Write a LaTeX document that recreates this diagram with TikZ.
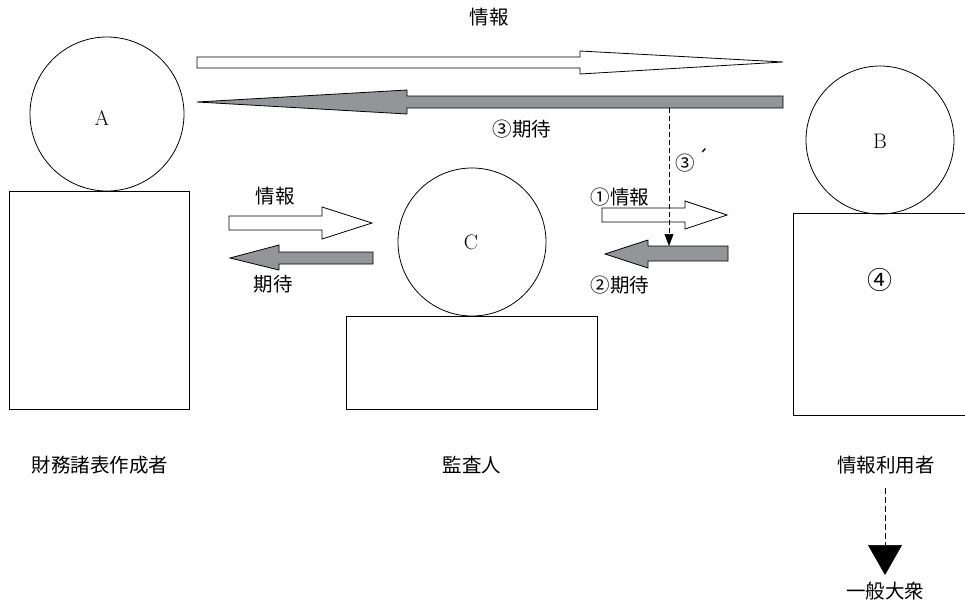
\documentclass[tikz,border=0pt]{standalone}
\usepackage{fontspec}
\newfontfamily\jp{Noto Sans CJK JP}
\usetikzlibrary{arrows.meta}
\definecolor{agray}{RGB}{148,149,153}
\tikzset{
  outl/.style={draw=black,line width=0.8pt},
  whitearrow/.style={outl,fill=white,line join=miter},
  grayarrow/.style={outl,fill=agray,line join=miter},
  lbl/.style={font=\jp\fontsize{19.5}{22}\selectfont,inner sep=0pt},
  letter/.style={font=\fontsize{21}{24}\selectfont,inner sep=0pt}
}
\begin{document}
\begin{tikzpicture}[x=1pt,y=-1pt]
\useasboundingbox (0,0) rectangle (965,608);
% people
\node[outl,circle,minimum size=154pt,inner sep=0pt] (A) at (107,114) {};
\node[letter] (Al) at (102,118) {A};
\node[outl,rectangle,minimum width=180pt,minimum height=218pt,inner sep=0pt,anchor=north west] (Abox) at (9,191) {};
\node[outl,circle,minimum size=148pt,inner sep=0pt] (C) at (472,242) {};
\node[letter] (Cl) at (471,242) {C};
\node[outl,rectangle,minimum width=251pt,minimum height=93pt,inner sep=0pt,anchor=north west] (Cbox) at (346,316) {};
\node[outl,circle,minimum size=148pt,inner sep=0pt] (B) at (880,140) {};
\node[letter] (Bl) at (880,141) {B};
\draw[outl] (965,213) -- (793,213) -- (793,415) -- (965,415);
\node[lbl,font=\jp\fontsize{25}{28}\selectfont] (n4) at (880,280) {④};
% top arrows
\draw[whitearrow] (197,57) -- (580,57) -- (580,51) -- (783,62) -- (580,74) -- (580,68) -- (197,68) -- cycle;
\draw[grayarrow] (783,96) -- (407,96) -- (407,90) -- (197,102) -- (407,114) -- (407,108) -- (783,108) -- cycle;
\node[lbl] (t1) at (489,17) {情報};
\node[lbl] (t2) at (522,129) {③期待};
% left middle arrows
\draw[whitearrow] (229,216) -- (322,216) -- (322,207) -- (372,223) -- (322,239) -- (322,230) -- (229,230) -- cycle;
\draw[grayarrow] (373,252) -- (279,252) -- (279,245) -- (230,258) -- (279,270) -- (279,264) -- (373,264) -- cycle;
\node[lbl] (t3) at (275,196) {情報};
\node[lbl] (t4) at (273,284) {期待};
% right middle arrows
\draw[whitearrow] (602,208) -- (685,208) -- (685,201) -- (727,215) -- (685,229) -- (685,222) -- (602,222) -- cycle;
\draw[grayarrow] (728,246) -- (648,246) -- (648,240) -- (605,254) -- (648,268) -- (648,261) -- (728,261) -- cycle;
\node[lbl] (t5) at (620,197) {①情報};
\node[lbl] (t6) at (620,285) {②期待};
% dashed 3'
\coordinate (d1) at (669,108);
\coordinate (d2) at (669,246);
\draw[line width=0.6pt,dash pattern=on 5pt off 3pt,-{Triangle[width=9pt,length=12pt]}] (d1) -- (d2);
\node[lbl,anchor=west] (t7) at (675,160) {③\,\raisebox{5pt}{´}};
% bottom labels
\node[lbl] (s1) at (100,465) {財務諸表作成者};
\node[lbl] (s2) at (472,465) {監査人};
\node[lbl] (s3) at (886,465) {情報利用者};
\node[lbl] (s4) at (885,591) {一般大衆};
\coordinate (e1) at (885,488);
\coordinate (e2) at (885,575);
\draw[line width=0.6pt,dash pattern=on 6pt off 3pt,-{Triangle[width=34pt,length=30pt]}] (e1) -- (e2);
\end{tikzpicture}
\end{document}
